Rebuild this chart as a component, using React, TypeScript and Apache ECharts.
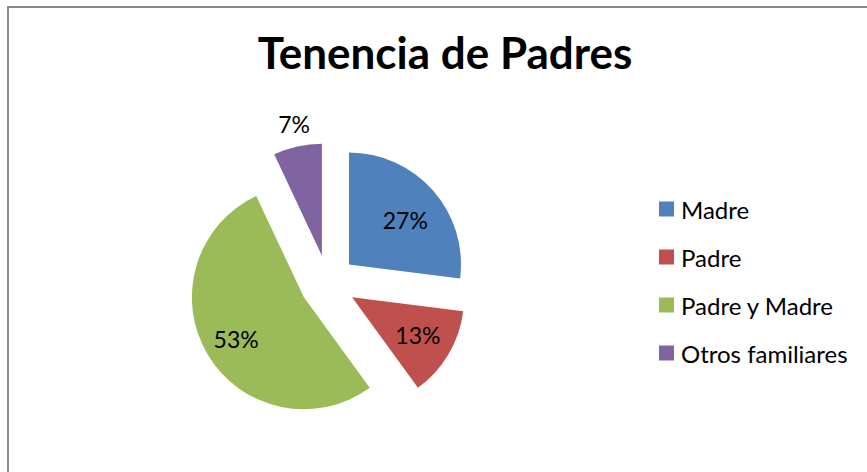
import React, { useEffect, useRef } from "react";
import * as echarts from "echarts";

const categories = ["Madre", "Padre", "Padre y Madre", "Otros familiares"];
const values = [27, 13, 53, 7];
const colors = ["#4F81BD", "#C0504D", "#9BBB59", "#8064A2"];
const titleText = "Tenencia de Padres";

// label nudges (pixels) relative to ECharts' inside label position
const labelShift = [
  [12, -5],
  [15, 8],
  [-17, 12],
  [-15, -74],
];

export default function App() {
  const ref = useRef<HTMLDivElement>(null);
  useEffect(() => {
    if (!ref.current) return;
    const chart = echarts.init(ref.current, null, { renderer: "svg" });
    const font = "Lato, 'Open Sans', sans-serif";
    chart.setOption({
      animation: false,
      backgroundColor: "#ffffff",
      title: {
        text: titleText,
        left: 445,
        top: 30,
        padding: 0,
        textAlign: "center",
        textStyle: { fontFamily: font, fontWeight: "bold", fontSize: 44, color: "#000" },
      },
      legend: {
        orient: "vertical",
        left: 659,
        top: 197,
        padding: 0,
        icon: "rect",
        itemWidth: 15,
        itemHeight: 15,
        itemGap: 24,
        selectedMode: false,
        textStyle: { fontFamily: font, fontSize: 24, color: "#000", lineHeight: 22, padding: [0, 0, 0, 2] },
        data: categories,
      },
      graphic: [
        {
          type: "polyline",
          shape: { points: [[8, 472], [8, 7], [867, 7]] },
          style: { stroke: "#8a8a8a", lineWidth: 2, fill: "none" },
          silent: true,
        },
      ],
      series: [
        {
          type: "pie",
          center: [328, 283],
          radius: [0, 112],
          startAngle: 90,
          clockwise: true,
          selectedMode: "multiple",
          selectedOffset: 28,
          avoidLabelOverlap: false,
          label: {
            show: true,
            position: "inside",
            formatter: "{c}%",
            fontFamily: font,
            fontSize: 23,
            color: "#000",
          },
          labelLine: { show: false },
          labelLayout: (p: any) => ({ dx: labelShift[p.dataIndex][0], dy: labelShift[p.dataIndex][1] }),
          emphasis: { disabled: true },
          select: { itemStyle: {} },
          itemStyle: { borderWidth: 0 },
          data: categories.map((c, i) => ({
            name: c,
            value: values[i],
            selected: true,
            itemStyle: { color: colors[i] },
          })),
        },
      ],
    });
    return () => chart.dispose();
  }, []);
  return (
    <div
      ref={ref}
      style={{ position: "absolute", left: 0, top: 0, width: 867, height: 472 }}
    />
  );
}
